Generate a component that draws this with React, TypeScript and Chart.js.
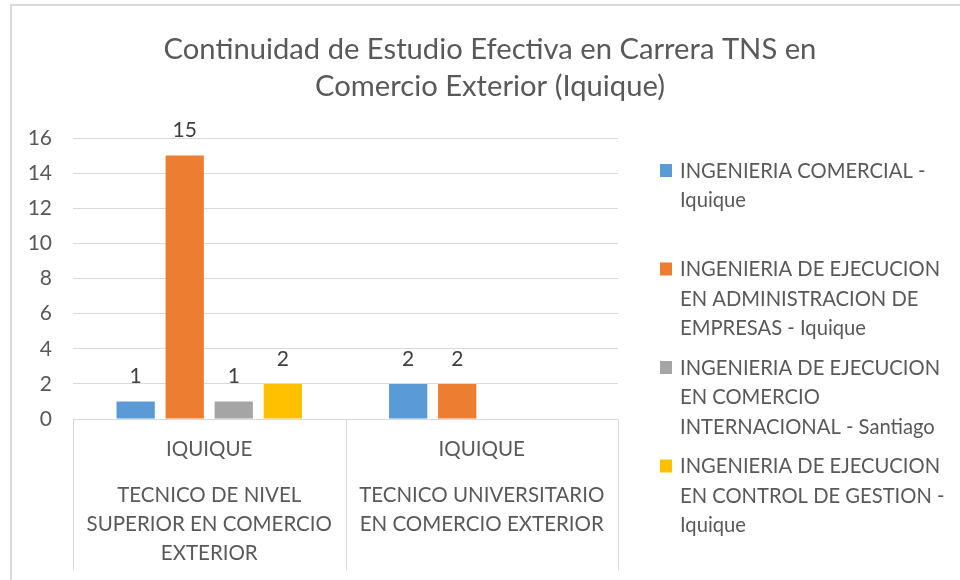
import React, { useEffect, useRef } from "react";
import { Chart, registerables } from "chart.js";

Chart.register(...registerables);

// ---- data ----
const titleLines = [
  "Continuidad de Estudio Efectiva en Carrera TNS en",
  "Comercio Exterior (Iquique)",
];
const campusLabels = ["IQUIQUE", "IQUIQUE"];
const programLabels = [
  ["TECNICO DE NIVEL", "SUPERIOR EN COMERCIO", "EXTERIOR"],
  ["TECNICO UNIVERSITARIO", "EN COMERCIO EXTERIOR"],
];
const seriesNames = [
  ["INGENIERIA COMERCIAL -", "Iquique"],
  ["INGENIERIA DE EJECUCION", "EN ADMINISTRACION DE", "EMPRESAS - Iquique"],
  ["INGENIERIA DE EJECUCION", "EN COMERCIO", "INTERNACIONAL - Santiago"],
  ["INGENIERIA DE EJECUCION", "EN CONTROL DE GESTION -", "Iquique"],
];
const seriesColors = ["#5b9bd5", "#ed7d31", "#a5a5a5", "#ffc000"];
const comercialIquique: (number | null)[] = [1, 2];
const adminEmpresasIquique: (number | null)[] = [15, 2];
const comercioIntlSantiago: (number | null)[] = [1, null];
const controlGestionIquique: (number | null)[] = [2, null];
const seriesValues = [
  comercialIquique,
  adminEmpresasIquique,
  comercioIntlSantiago,
  controlGestionIquique,
];
const yMin = 0;
const yMax = 16;
const yStep = 2;

const FONT = "Lato, Carlito, Calibri, 'Open Sans', sans-serif";
const TEXT = "#595959";

const framePlugin = {
  id: "frame",
  beforeDraw(chart: any) {
    const { ctx, width, height } = chart;
    ctx.save();
    ctx.fillStyle = "#ffffff";
    ctx.fillRect(0, 0, width, height);
    ctx.strokeStyle = "#d9d9d9";
    ctx.lineWidth = 2;
    ctx.strokeRect(11, 5, width + 20, height + 20);
    // title
    ctx.fillStyle = TEXT;
    ctx.font = `29.2px ${FONT}`;
    ctx.textAlign = "center";
    ctx.textBaseline = "middle";
    titleLines.forEach((t, i) => ctx.fillText(t, 490, 50 + i * 37));
    ctx.restore();
  },
};

const categoryAxisPlugin = {
  id: "categoryAxis",
  afterDraw(chart: any) {
    const { ctx, chartArea } = chart;
    const x = chart.scales.x;
    const n = campusLabels.length;
    ctx.save();
    ctx.strokeStyle = "#d9d9d9";
    ctx.lineWidth = 1;
    const bounds: number[] = [chartArea.left];
    for (let i = 0; i < n - 1; i++) {
      bounds.push((x.getPixelForValue(i) + x.getPixelForValue(i + 1)) / 2);
    }
    bounds.push(chartArea.right);
    bounds.forEach((b) => {
      const bx = Math.round(b) + 0.5;
      ctx.beginPath();
      ctx.moveTo(bx, chartArea.bottom);
      ctx.lineTo(bx, chart.height - 10);
      ctx.stroke();
    });
    ctx.fillStyle = TEXT;
    ctx.textAlign = "center";
    ctx.textBaseline = "middle";
    ctx.font = `20.5px ${FONT}`;
    for (let i = 0; i < n; i++) {
      const cx = x.getPixelForValue(i);
      ctx.fillText(campusLabels[i], cx, chartArea.bottom + 30);
      programLabels[i].forEach((l, j) => {
        ctx.fillText(l, cx, chartArea.bottom + 76 + j * 29);
      });
    }
    ctx.restore();
  },
};

const dataLabelPlugin = {
  id: "dataLabels",
  afterDatasetsDraw(chart: any) {
    const { ctx } = chart;
    ctx.save();
    ctx.fillStyle = "#404040";
    ctx.font = `21px ${FONT}`;
    ctx.textAlign = "center";
    ctx.textBaseline = "middle";
    chart.data.datasets.forEach((ds: any, di: number) => {
      const meta = chart.getDatasetMeta(di);
      meta.data.forEach((el: any, i: number) => {
        const v = ds.data[i];
        if (v === null || v === undefined) return;
        ctx.fillText(String(v), el.x, el.y - 25);
      });
    });
    ctx.restore();
  },
};

const legendPlugin = {
  id: "customLegend",
  afterDraw(chart: any) {
    const { ctx } = chart;
    ctx.save();
    ctx.font = `20.2px ${FONT}`;
    ctx.textAlign = "left";
    ctx.textBaseline = "middle";
    seriesNames.forEach((lines, i) => {
      const y0 = 171 + i * 98.5;
      ctx.fillStyle = seriesColors[i];
      ctx.fillRect(660, y0 - 7, 12, 13);
      ctx.fillStyle = TEXT;
      lines.forEach((l, j) => ctx.fillText(l, 680, y0 + j * 29.5));
    });
    ctx.restore();
  },
};

export default function App() {
  const ref = useRef<HTMLCanvasElement | null>(null);
  useEffect(() => {
    document.body.style.margin = "0";
    if (!ref.current) return;
    const chart = new Chart(ref.current, {
      type: "bar",
      data: {
        labels: campusLabels,
        datasets: seriesValues.map((vals, i) => ({
          label: seriesNames[i].join(" "),
          data: vals,
          backgroundColor: seriesColors[i],
          categoryPercentage: 0.72,
          barPercentage: 0.78,
        })),
      },
      options: {
        animation: false,
        responsive: false,
        layout: { padding: { left: 0, right: 342, top: 138, bottom: 0 } },
        plugins: {
          legend: { display: false },
          title: { display: false },
          tooltip: { enabled: false },
        },
        scales: {
          x: {
            ticks: { display: false },
            grid: { display: false },
            border: { display: false },
            afterFit: (s: any) => {
              s.height = 161;
            },
          },
          y: {
            min: yMin,
            max: yMax,
            ticks: {
              stepSize: yStep,
              padding: 21,
              color: TEXT,
              font: { family: FONT, size: 21 },
            },
            grid: { color: "#d9d9d9", drawTicks: false, lineWidth: 1 },
            border: { display: false },
            afterFit: (s: any) => {
              s.width = 73;
            },
          },
        },
      },
      plugins: [framePlugin, categoryAxisPlugin, dataLabelPlugin, legendPlugin],
    });
    return () => chart.destroy();
  }, []);
  return (
    <div style={{ width: 960, height: 580 }}>
      <canvas ref={ref} width={960} height={580} style={{ display: "block" }} />
    </div>
  );
}
